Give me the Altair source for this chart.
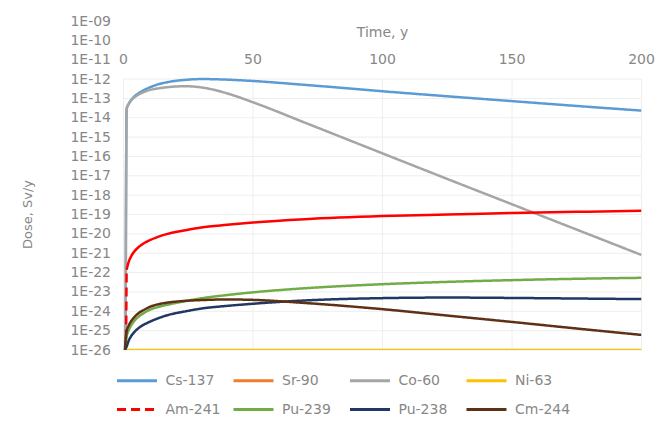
import altair as alt
import pandas as pd

# ---- data (dose as log10 of Sv/y) ----
series = ["Cs-137", "Sr-90", "Co-60", "Ni-63", "Am-241", "Pu-239", "Pu-238", "Cm-244"]
colors = ["#5B9BD5", "#ED7D31", "#A5A5A5", "#FFC000", "#FF0000", "#70AD47", "#203864", "#5E3014"]
dashes = [[1, 0], [1, 0], [1, 0], [1, 0], [9, 5], [1, 0], [1, 0], [1, 0]]

time = [1.2, 2, 3, 4, 6, 8, 10, 13, 17, 24, 30, 40, 50, 70, 100, 125, 150, 175, 200]

cs137_t0, cs137_v0 = 0.8, -26.0
cs137 = [-13.54, -13.28, -13.07, -12.92, -12.72, -12.56, -12.44, -12.29, -12.16, -12.04, -12.00,
         -12.03, -12.10, -12.30, -12.63, -12.89, -13.14, -13.39, -13.63]

sr90 = [-40.0] * len(time)          # below the axis: not visible

co60_t0, co60_v0 = 0.8, -26.0
co60 = [-13.54, -13.30, -13.10, -12.97, -12.79, -12.66, -12.57, -12.49, -12.42, -12.37, -12.43,
        -12.74, -13.20, -14.25, -15.84, -17.16, -18.47, -19.78, -21.09]

ni63 = [-26.0] * len(time)          # sits on the bottom of the axis

am241_t0, am241_v0 = 1.0, -25.4
am241 = [-21.85, -21.45, -21.15, -20.94, -20.66, -20.47, -20.33, -20.17, -20.00, -19.81, -19.67,
         -19.53, -19.41, -19.24, -19.08, -19.00, -18.92, -18.86, -18.81]

pu239_t0, pu239_v0 = 0.5, -26.0
pu239 = [-25.31, -24.98, -24.72, -24.53, -24.26, -24.08, -23.93, -23.79, -23.66, -23.47, -23.33,
         -23.16, -23.02, -22.81, -22.60, -22.48, -22.39, -22.32, -22.27]

pu238_t0, pu238_v0 = 0.5, -26.0
pu238 = [-25.83, -25.52, -25.27, -25.10, -24.85, -24.68, -24.55, -24.38, -24.20, -24.00, -23.86,
         -23.72, -23.61, -23.44, -23.32, -23.29, -23.31, -23.34, -23.37]

cm244_t0, cm244_v0 = 0.5, -26.0
cm244 = [-25.05, -24.74, -24.50, -24.33, -24.08, -23.92, -23.78, -23.65, -23.55, -23.46, -23.42,
         -23.39, -23.41, -23.57, -23.89, -24.22, -24.55, -24.89, -25.22]

x_ticks = [0, 50, 100, 150, 200]
y_exponents = list(range(9, 27))          # 1E-09 ... 1E-26
grid_exponents = list(range(12, 27))      # gridlines 1E-12 ... 1E-26

# ---- tables ----
rows = []
def add(name, ts, vs):
    for t, v in zip(ts, vs):
        rows.append({"series": name, "t": t, "dose": 10.0 ** v})

add("Cs-137", [cs137_t0] + time, [cs137_v0] + cs137)
add("Sr-90", time, sr90)
add("Co-60", [co60_t0] + time, [co60_v0] + co60)
add("Ni-63", [0.5] + time, [-26.0] + ni63)
add("Am-241", [am241_t0, time[0]], [am241_v0, am241[0]])      # dashed start
add("Pu-239", [pu239_t0] + time, [pu239_v0] + pu239)
add("Pu-238", [pu238_t0] + time, [pu238_v0] + pu238)
add("Cm-244", [cm244_t0] + time, [cm244_v0] + cm244)
df = pd.DataFrame(rows)

am_solid = pd.DataFrame({"t": time, "dose": [10.0 ** v for v in am241]})

gh = pd.DataFrame({"y": [10.0 ** -e for e in grid_exponents], "x0": 0, "x1": 200})
gv = pd.DataFrame({"x": x_ticks, "y0": 1e-26, "y1": 1e-12})
xl = pd.DataFrame({"x": x_ticks, "y": 1e-11, "label": [str(v) for v in x_ticks]})
xt = pd.DataFrame({"x": [100], "y": [10 ** -9.62], "label": ["Time, y"]})

FONT = "DejaVu Sans"
TXT = "#878787"

xscale = alt.Scale(domain=[0, 200], nice=False, zero=False)
yscale = alt.Scale(type="log", domain=[1e-26, 1e-9], nice=False)

xenc_axis = alt.Axis(labels=False, ticks=False, domain=False, grid=False, title=None, orient="top")
yaxis = alt.Axis(
    values=[10.0 ** -e for e in y_exponents],
    labelExpr="'1E-' + (round(-log(datum.value)/LN10) < 10 ? '0' : '') + round(-log(datum.value)/LN10)",
    domain=False, ticks=False, grid=False,
    labelFont=FONT, labelFontSize=14, labelColor=TXT, labelPadding=13,
    title="Dose, Sv/y", titleFont=FONT, titleFontSize=13, titleColor=TXT,
    titleFontWeight="normal", titleX=-96, titleY=193, titleAngle=270,
    titleBaseline="middle", titleAlign="center",
)

grid_h = alt.Chart(gh).mark_rule(color="#EEEEEE", strokeWidth=1).encode(
    x=alt.X("x0:Q", scale=xscale, axis=xenc_axis),
    x2="x1:Q",
    y=alt.Y("y:Q", scale=yscale, axis=yaxis),
)
grid_v = alt.Chart(gv).mark_rule(color="#EEEEEE", strokeWidth=1).encode(
    x=alt.X("x:Q", scale=xscale),
    y=alt.Y("y0:Q", scale=yscale),
    y2="y1:Q",
)

lines = alt.Chart(df).mark_line(strokeWidth=2.5, clip=True, interpolate="monotone").encode(
    x=alt.X("t:Q", scale=xscale),
    y=alt.Y("dose:Q", scale=yscale),
    color=alt.Color("series:N", scale=alt.Scale(domain=series, range=colors),
                    sort=series, title=None),
    strokeDash=alt.StrokeDash("series:N", scale=alt.Scale(domain=series, range=dashes),
                              sort=series, title=None),
    order=alt.Order("t:Q"),
)

am_line = alt.Chart(am_solid).mark_line(strokeWidth=2.5, clip=True, interpolate="monotone",
                                        color="#FF0000").encode(
    x=alt.X("t:Q", scale=xscale),
    y=alt.Y("dose:Q", scale=yscale),
)

xlabels = alt.Chart(xl).mark_text(font=FONT, fontSize=14, color=TXT, baseline="middle").encode(
    x=alt.X("x:Q", scale=xscale),
    y=alt.Y("y:Q", scale=yscale),
    text="label:N",
)
xtitle = alt.Chart(xt).mark_text(font=FONT, fontSize=14, color=TXT, baseline="middle").encode(
    x=alt.X("x:Q", scale=xscale),
    y=alt.Y("y:Q", scale=yscale),
    text="label:N",
)

chart = alt.layer(grid_h, grid_v, lines, am_line, xlabels, xtitle).properties(
    width=518, height=329,
    autosize=alt.AutoSizeParams(type="none"),
    padding={"left": 115.5, "top": 13, "right": 20, "bottom": 70},
).configure_view(stroke=None).configure_legend(
    orient="none", legendX=-8, legendY=338, direction="horizontal", columns=4,
    symbolType="stroke", symbolSize=1600, symbolStrokeWidth=3,
    labelFont=FONT, labelFontSize=14, labelColor=TXT, labelOffset=7,
    gridAlign="all", columnPadding=5.5, rowPadding=-18,
)

chart.save("out.html", embed_options={"renderer": "svg", "actions": False})
